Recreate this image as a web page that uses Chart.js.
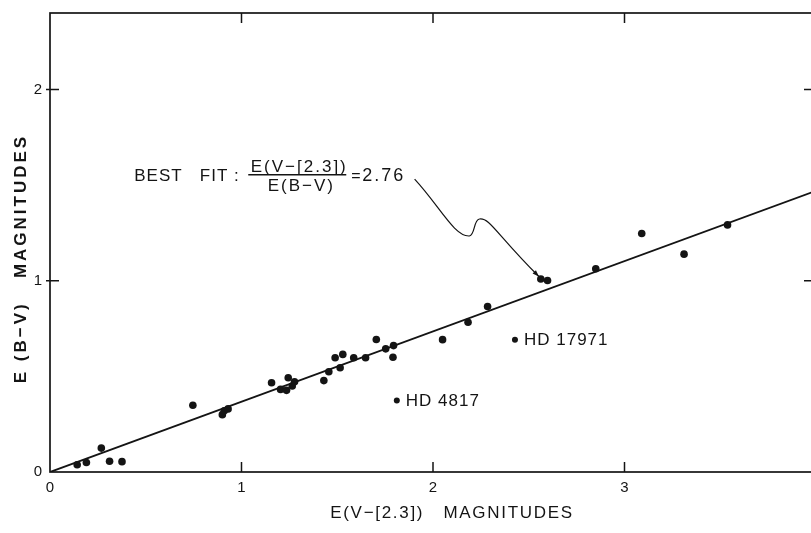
<!DOCTYPE html>
<html>
<head>
<meta charset="utf-8">
<script src="https://cdn.jsdelivr.net/npm/chart.js@4.4.1/dist/chart.umd.min.js"></script>
<style>
  html, body { margin: 0; padding: 0; background: #fff; overflow: hidden; }
  #wrap { position: relative; width: 828px; height: 533px; }
</style>
</head>
<body>
<div id="wrap"><canvas id="reddening"></canvas></div>
<script>
// stars: colour excess E(V-[2.3]) vs E(B-V)
const eV23 = [0.142, 0.19, 0.268, 0.311, 0.376, 0.746, 0.90, 0.91, 0.93,
  1.157, 1.204, 1.235, 1.244, 1.265, 1.277, 1.43, 1.456, 1.489, 1.515, 1.529,
  1.586, 1.648, 1.704, 1.753, 1.794, 1.791, 2.05, 2.183, 2.285, 2.563, 2.598,
  2.85, 3.09, 3.311, 3.538];
const eBV = [0.038, 0.05, 0.125, 0.056, 0.054, 0.349, 0.30, 0.32, 0.33,
  0.467, 0.432, 0.427, 0.493, 0.45, 0.472, 0.478, 0.524, 0.597, 0.545, 0.615,
  0.597, 0.597, 0.693, 0.644, 0.661, 0.60, 0.692, 0.783, 0.865, 1.009, 1.001,
  1.063, 1.247, 1.139, 1.292];

// the two named outliers
const hdNames = ["HD 4817", "HD 17971"];
const hdX = [1.811, 2.428];
const hdY = [0.374, 0.692];

// best fit line, E(V-[2.3]) / E(B-V) = 2.76
const fitX = [0, 4];
const fitY = [0, 1.47];

const xTicks = [0, 1, 2, 3];
const yTicks = [0, 1, 2];

const ink = "#141414";
const FONT = '"Liberation Sans", Arial, sans-serif';

// wavy pointer from the label down to the points near (2.58, 1.0)
const arrowPath = [
  [1.904, 1.531],
  [2.034, 1.391], [2.112, 1.229], [2.19, 1.234],
  [2.221, 1.240], [2.211, 1.318], [2.242, 1.323],
  [2.294, 1.333], [2.330, 1.245], [2.553, 1.022]
];

const decorPlugin = {
  id: 'decorPlugin',
  afterDatasetsDraw(chart) {
    const { ctx, chartArea: a, scales: { x, y } } = chart;
    ctx.save();
    ctx.strokeStyle = ink;
    ctx.fillStyle = ink;

    // frame + inward ticks
    ctx.lineWidth = 1.7;
    ctx.strokeRect(a.left, a.top, a.right - a.left, a.bottom - a.top);
    ctx.lineWidth = 1.5;
    ctx.beginPath();
    xTicks.forEach(v => {
      if (!v) return;
      const px = x.getPixelForValue(v);
      ctx.moveTo(px, a.bottom); ctx.lineTo(px, a.bottom - 10);
      ctx.moveTo(px, a.top); ctx.lineTo(px, a.top + 10);
    });
    yTicks.forEach(v => {
      if (!v) return;
      const py = y.getPixelForValue(v);
      ctx.moveTo(a.left - 4, py); ctx.lineTo(a.left + 9, py);
      ctx.moveTo(a.right, py); ctx.lineTo(a.right - 12, py);
    });
    ctx.stroke();

    // HD labels
    ctx.font = "17px " + FONT;
    ctx.letterSpacing = "1px";
    ctx.textAlign = "left";
    ctx.textBaseline = "middle";
    hdNames.forEach((name, i) => {
      ctx.fillText(name, x.getPixelForValue(hdX[i]) + 9, y.getPixelForValue(hdY[i]) + 1);
    });

    // best fit annotation
    const nx = x.getPixelForValue(0.44);
    const ny = y.getPixelForValue(1.52);
    ctx.textBaseline = "alphabetic";
    ctx.font = "17px " + FONT;
    ctx.letterSpacing = "1px";
    ctx.fillText("BEST   FIT :", nx, ny);
    ctx.textAlign = "center";
    ctx.letterSpacing = "2px";
    ctx.fillText("E(V\u2212[2.3])", nx + 165, ny - 9);
    ctx.fillText("E(B\u2212V)", nx + 167, ny + 10);
    ctx.lineWidth = 1.4;
    ctx.beginPath();
    ctx.moveTo(nx + 114, ny - 6.5); ctx.lineTo(nx + 212, ny - 6.5);
    ctx.stroke();
    ctx.textAlign = "left";
    ctx.font = "16px " + FONT;
    ctx.letterSpacing = "0px";
    ctx.fillText("=", nx + 217, ny);
    ctx.font = "18px " + FONT;
    ctx.letterSpacing = "2px";
    ctx.fillText("2.76", nx + 228, ny);

    // wavy pointer
    const P = p => [x.getPixelForValue(p[0]), y.getPixelForValue(p[1])];
    ctx.lineWidth = 1.2;
    ctx.beginPath();
    const s = P(arrowPath[0]);
    ctx.moveTo(s[0], s[1]);
    for (let i = 1; i + 2 < arrowPath.length; i += 3) {
      const c1 = P(arrowPath[i]), c2 = P(arrowPath[i + 1]), e = P(arrowPath[i + 2]);
      ctx.bezierCurveTo(c1[0], c1[1], c2[0], c2[1], e[0], e[1]);
    }
    ctx.stroke();
    const tip = P(arrowPath[arrowPath.length - 1]);
    const pre = P(arrowPath[arrowPath.length - 2]);
    const ang = Math.atan2(tip[1] - pre[1], tip[0] - pre[0]);
    ctx.beginPath();
    ctx.moveTo(tip[0], tip[1]);
    ctx.lineTo(tip[0] - 7 * Math.cos(ang - 0.35), tip[1] - 7 * Math.sin(ang - 0.35));
    ctx.lineTo(tip[0] - 7 * Math.cos(ang + 0.35), tip[1] - 7 * Math.sin(ang + 0.35));
    ctx.closePath();
    ctx.fill();

    // axis titles
    ctx.textAlign = "center";
    ctx.textBaseline = "alphabetic";
    ctx.font = "17px " + FONT;
    ctx.letterSpacing = "1.7px";
    ctx.fillText("E(V\u2212[2.3])   MAGNITUDES", (a.left + a.right) / 2 + 19, 518);
    ctx.translate(26, (a.top + a.bottom) / 2 + 16);
    ctx.rotate(-Math.PI / 2);
    ctx.font = "bold 17px " + FONT;
    ctx.letterSpacing = "3px";
    ctx.fillText("E (B\u2212V)   MAGNITUDES", 0, 0);
    ctx.restore();
  }
};

const ctxR = document.getElementById("reddening").getContext("2d");

const reddeningChart = new Chart(ctxR, {
  type: "scatter",
  data: {
    datasets: [
      {
        label: "stars",
        data: eV23.map((v, i) => ({ x: v, y: eBV[i] })),
        backgroundColor: ink,
        borderWidth: 0,
        pointRadius: 3.8
      },
      {
        label: "HD",
        data: hdX.map((v, i) => ({ x: v, y: hdY[i] })),
        backgroundColor: ink,
        borderWidth: 0,
        pointRadius: 3
      },
      {
        label: "fit",
        type: "line",
        data: fitX.map((v, i) => ({ x: v, y: fitY[i] })),
        borderColor: ink,
        borderWidth: 1.9,
        pointRadius: 0,
        fill: false
      }
    ]
  },
  options: {
    responsive: true,
    maintainAspectRatio: false,
    animation: false,
    layout: { padding: { top: 13, right: 12, left: 0, bottom: 0 } },
    scales: {
      x: {
        type: "linear",
        min: 0,
        max: 4,
        grid: { display: false, drawTicks: false },
        border: { display: false },
        afterBuildTicks: s => { s.ticks = xTicks.map(v => ({ value: v })); },
        afterFit: s => { s.height = 61; s.paddingLeft = 0; s.paddingRight = 0; },
        ticks: { color: ink, padding: 7, font: { family: FONT, size: 15 } }
      },
      y: {
        min: 0,
        max: 2.4,
        grid: { display: false, drawTicks: false },
        border: { display: false },
        afterBuildTicks: s => { s.ticks = yTicks.map(v => ({ value: v })); },
        afterFit: s => { s.width = 50; s.paddingTop = 0; s.paddingBottom = 0; },
        ticks: { color: ink, padding: 8, font: { family: FONT, size: 15 } }
      }
    },
    plugins: {
      legend: { display: false },
      tooltip: { enabled: false }
    }
  },
  plugins: [decorPlugin]
});
</script>
</body>
</html>
